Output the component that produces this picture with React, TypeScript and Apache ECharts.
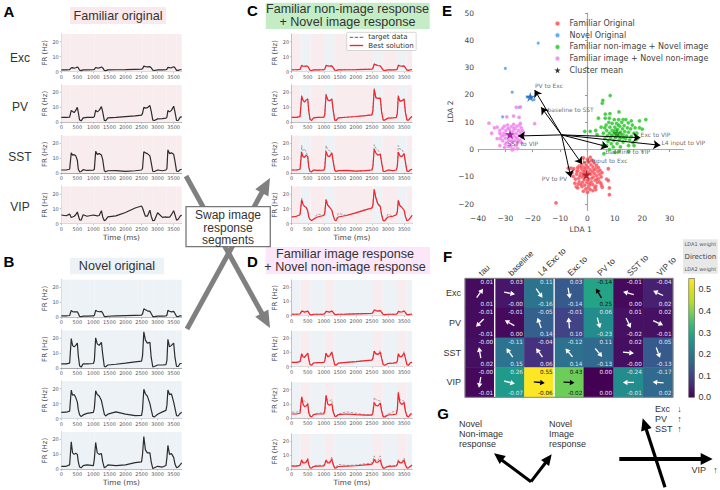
import React, { useEffect, useRef } from "react";
import * as echarts from "echarts";

const times = [0,150,260,310,350,400,450,500,530,570,620,680,800,
  1000,1030,1070,1120,1180,1250,1290,1340,1380,1450,1700,2000,2300,
  2500,2530,2570,2620,2680,2760,2800,2850,2900,3000,3150,
  3260,3290,3320,3370,3430,3500,3540,3590,3640,3700,3750];

const famExc = [1.2,1.2,1.3,2.6,2.7,2.3,2.6,3.1,2.6,1,0.7,1.2,1.2, 1.3,1.5,2.8,2.5,2.4,3.1,2.5,0.9,0.7,1.2,1.3,1.4,1.6, 1.7,2,3.7,3.4,3.2,3.4,2.6,1,0.8,1.2,1.2, 1.3,1.6,2.9,2.7,2.6,3.3,2.6,0.9,0.9,1.3,1.3];
const famPV = [3.3,3.3,3.5,8,7.2,6.5,8,10,6.5,1.5,1,3,3.3, 3.3,3.8,8.2,7,8,10.5,7,1.3,1,3,3.3,3.8,4.3, 4.8,6,10,9.5,9.8,11.2,7.5,1.5,1.2,2.3,2.5, 2.8,3.5,8,7,8,10.8,7,1.2,1.2,3.3,3.8];
const famSST = [2,2,2.5,13.5,12,12.3,11.5,8.5,2.5,0.8,1,2.3,1.7, 1.9,2.5,14.5,12.5,13,12,9,1.5,0.8,1.5,1.6,1.1,1.5, 2,3,14.2,13.5,13,11.5,7,1,1,2,1.5, 2,3,15.5,13,13.5,12.5,8,1.2,1,2.2,2.5];
const famVIP = [5.8,5.3,6.4,4.2,4.5,5,6,7.8,5.5,2.6,2.4,6,5, 5.8,5.5,5.5,5.2,5.5,8.7,4.5,2,2.5,4.6,5.2,7.5,10.5, 11.8,10.5,8,5,5,9,5,2,2.2,7.3,4.2, 4.5,4.2,4.5,4.3,6,8.7,6,2.4,3,5,5.8];

const novExc = [1,1,1.2,4.6,3.8,3.6,3.7,3.6,2.5,0.6,0.4,0.8,0.8, 0.9,1.3,4.6,4,3.7,3.9,2.8,0.6,0.4,0.7,0.9,1.1,1.3, 1.4,2.2,5.6,5,4.3,3.9,2.5,0.5,0.4,0.8,0.8, 0.9,1.5,4.6,4,3.6,3.9,2.5,0.6,0.5,0.9,1];
const novPV = [2.7,2.7,3.2,19.5,15,14,15,16.5,8,1.5,0.6,2.7,2.8, 3,5,20,16,15,17,9,1,0.8,2,2.5,3.2,4, 4.5,8,24,18.5,16.5,17,7,0.8,1,2,2, 2.2,5,19,14,15,16.5,7,1,1,3,3];
const novSST = [4.2,4.3,5,19,15.5,16,14,11,6,2.5,1.5,2.5,3.5, 4.2,7,18.5,16,15,12,8,3,1.8,3,4.5,3,2, 2.2,6,19.5,16.5,15,10,6,1.5,1.2,3,4.5, 5.5,9,19,16,16.5,11,7,2,1.8,3.5,4.3];
const novVIP = [2,2,3,18.5,11,10,10.8,10,5,1.5,1,2.5,3, 2.5,7,18,11,10,10.5,5,1,1.5,3,2.5,3,4.5, 5,10,22,13,11,11,5,0.5,1,2,1.5, 2.5,8,16,10,10.5,8,3.5,1,1.5,3,4.3];

const cTargetExc = [1.3,1.3,1.5,4.4,3.8,3.7,3.8,3.6,2.5,0.9,0.8,1.2,1.2, 1.3,1.6,4.4,4,3.8,3.9,2.8,0.9,0.8,1.2,1.3,1.4,1.6, 1.7,2.4,5.4,4.8,4.2,3.9,2.6,0.9,0.8,1.2,1.2, 1.3,1.8,4.5,4,3.6,3.9,2.6,0.9,0.9,1.3,1.3];
const cBestExc = [1.3,1.3,1.5,4.1,3.7,3.6,3.8,3.5,2.5,1,0.8,1.2,1.2, 1.3,1.6,4.2,3.9,3.7,3.9,2.7,1,0.8,1.2,1.3,1.4,1.6, 1.7,2.3,5,4.5,4.1,3.8,2.6,1,0.8,1.2,1.2, 1.3,1.8,4.2,3.9,3.6,3.8,2.6,1,0.9,1.3,1.3];
const cTargetPV = [3.3,3.3,3.8,18,15,13.8,15,16,8,2,1.2,3,3.3, 3.4,5,19,15.5,14.5,16,8.5,1.5,1.2,3,3.4,3.9,4.5, 5,8,23,17,16,16.5,7,1.5,1.5,2.8,3, 3.2,6,18,14,14.5,16,7,1.5,1.5,3.2,3.8];
const cBestPV = [3.3,3.3,3.8,17.5,14.8,13.5,15,15.5,8,2,1.2,3,3.3, 3.4,5,18.5,15,14.5,15.5,8.5,1.5,1.2,3,3.4,3.9,4.5, 5,8,22,16.5,16,16,7,1.5,1.5,2.8,3, 3.2,6,17.5,14,14.5,15.5,7,1.5,1.5,3.2,3.8];
const cTargetSST = [2,2,2.5,18.5,15,16,14,11,4,1,0.8,2,1.8, 1.9,4,18.5,15.5,15,13,9,2,1,1.6,1.7,1.2,1.6, 2,5,19,16.5,15.5,13,8,1,1,2,1.6, 2,5,18.5,16,16,13,8,1.2,1,2.2,2.4];
const cBestSST = [2,2,2.5,14,11,10.5,12,11,4,1,0.8,2,1.8, 1.9,3.5,14.5,11.5,11,13.5,8,1.8,1,1.6,1.7,1.2,1.6, 2,4.5,16,13.5,12,12.5,7,1,1,2,1.6, 2,4.5,14,11.5,11,13,7.5,1.2,1,2.2,2.4];
const cTargetVIP = [4.5,5,6.5,17,13,11.5,11,9,5,3,2.2,3,6.5, 5.5,7.5,16.5,12.5,11,9.5,6,2.5,2.2,7,5.5,7.5,9.5, 10.5,13,23,17,13,11,6,2,2,6.5,5, 6,8.5,16,12.5,11,9,5,2,2.5,4,5.5];
const cBestVIP = [4.5,5,6,16,13,11.5,11,8.5,4.5,2.8,2.2,3,4.5, 5.5,7,16,12.5,11,9,5.5,2.5,2,4.5,5.5,7.2,9.2, 10.5,12.5,23,17.5,13.5,11.5,6,2,2,4.5,5, 6,8,15.5,12,11,9,5,2,2.5,4,5.5];

const dTargetExc = [1.1,1.1,1.3,3.3,3.1,2.6,2.9,3.3,2.3,0.9,0.7,1,1, 1.1,1.5,3.1,2.9,2.6,3.4,2.5,0.9,0.7,1,1.1,1.3,1.5, 1.6,2.2,4.1,3.7,3.3,3.6,2.5,0.9,0.7,1,1, 1.1,1.5,3.1,2.8,2.7,3.4,2.4,0.8,0.7,1,1.1];
const dBestExc = [1,1,1.2,3.2,3,2.5,2.8,3.2,2.2,0.8,0.6,1,1, 1.1,1.5,3,2.8,2.5,3.3,2.4,0.9,0.7,1,1.1,1.3,1.5, 1.6,2.2,4,3.6,3.2,3.5,2.4,0.9,0.7,1,1, 1.1,1.5,3,2.7,2.6,3.3,2.3,0.8,0.7,1,1.1];
const dTargetPV = [3,3,3.5,9,7.5,7,8,9.5,5.5,1.5,1,2.6,2.8, 3,4,9.5,7.5,8,10.8,6,1.3,1,2.5,3,3.5,4.2, 4.6,6,11,9.5,9,11.5,6,1.5,1,2.3,2.5, 2.8,4,9,7.5,7.5,10.5,6,1.3,1,2.8,3];
const dBestPV = [3,3,3.5,9,7,6.5,8,9.5,5.5,1.5,1,2.6,2.8, 3,4,9.5,7,7.5,10,6,1.3,1,2.5,3,3.5,4.2, 4.6,6,11,9,8.5,10,6,1.5,1,2.3,2.5, 2.8,4,9,7,7,9.5,6,1.3,1,2.8,3];
const dTargetSST = [4.2,4.3,5,15,12,12,11,10.5,5,2,1.5,2.8,3.5, 4,6,15.5,12.5,12,13,6,2,1.5,3,4.5,3.5,2.5, 2.5,5,14.5,13,12.5,12,6,1.2,1.2,3,4.5, 5,7,16,13,12.5,12,6,1.8,1.3,3.2,4];
const dBestSST = [3,3,3.5,15,10,8,8.5,10,4,1.5,1,2.5,3, 3,5,16,10,9,10,4.5,1.5,1.2,2.5,3,2.5,2.2, 2.2,4,11,9,8.5,10.5,5,1,1,2.3,2.5, 3,6,18,11,9.5,11,5,1.5,1,2.8,3.2];
const dTargetVIP = [2.5,2.5,3,7,5,5,5.5,8,4,1.2,1,2.5,2.8, 2.8,4,7,5,5,9,4,1.2,1.5,3.5,2.7,3,4, 4.5,6,9.5,6,6,9.5,4,1,1.2,2.8,2.5, 2.5,4,7,5,5,8,3.5,1.2,1.2,2.8,3.2];
const dBestVIP = [2.3,2.3,2.8,6.5,4.5,4.5,5,7,3.5,1,0.8,2,2.3, 2.4,3.5,6.5,4.5,4.5,7,3.5,0.9,1,2,2.2,2.5,3.2, 3.6,4.5,7,5,5,6.5,3,0.8,0.9,2,2.2, 2.4,3.5,6,4.5,4.5,6.5,3,0.9,1,2.2,2.8];

const spanEdges = [0,280,580,1030,1330,2530,2830,3280,3580,3750];
const xTicks = [0,500,1000,1500,2000,2500,3000,3500];
const yTicks = [0,10,20];

const redPts = [[-11.5,-19.5],[7.6,-7],[7,-10.8],[7.6,-11.3],[8,-14],[8,-16.5],[5.4,-13.8],[5.2,-13.2],[-5.2,-9.8],[-7,-6.8],[-6,-6.8],[-5,-7],[-1.5,-3],[1,-2.8],[2,-4],[-4.6,-12.3],[-4.1,-13.6],[-3.6,-14],[-2,-13.5],[-1.5,-15.2],[0,-15.6],[2,-15],[3,-14.6],[-4,-9],[-3.5,-7.5],[-3,-6],[-3.2,-10.5],[-3,-11.8],[-2.5,-8.6],[-2.2,-5.5],[-2,-7.2],[-2,-10],[-1.8,-12],[-1.5,-6.4],[-1.3,-8.8],[-1.2,-11],[-1,-4.8],[-1,-13],[-0.8,-7.6],[-0.5,-10],[-0.4,-5.8],[-0.2,-12],[0,-8.2],[0.2,-6.5],[0.3,-14],[0.5,-4.6],[0.5,-10.8],[0.7,-13],[1,-7.4],[1.2,-9],[1.3,-5.6],[1.4,-11.8],[1.8,-8],[1.9,-12.8],[2,-6.4],[2.2,-10],[2.5,-4.9],[2.6,-8.8],[2.8,-11.2],[3,-7],[3,-13.4],[3.3,-5.8],[3.4,-9.6],[3.6,-12],[3.8,-8],[4,-10.6],[4,-6.6],[4.5,-9],[4.4,-11.8],[4.6,-7.6],[5,-10],[-3.8,-8],[-2.8,-9.6],[-3.4,-12.6],[-2.4,-12.8],[-0.6,-14.4],[1,-14.6],[-1.6,-9.6],[0.6,-8.6],[1.6,-10.4],[-0.2,-9.2],[-0.9,-6.9],[0.9,-12.4],[2.4,-7.4],[3.4,-11],[-2.4,-6.4],[-4.4,-10.8],[-3.6,-6.6],[-1.4,-7.9],[0.1,-11.2],[2.7,-13.9],[4.9,-12.4],[5.3,-8.4],[-5.6,-8.4],[1.5,-3.9],[0,-3.6]];
const bluePts = [[-18,39],[-30,29.7],[-27.5,21],[-25,15.5],[-31,12],[-20.5,19],[-19.5,18.3],[-21,19.5],[-22,19.2]];
const greenPts = [[5.4,17],[5.6,18],[8.3,19.8],[4,11.5],[6.5,13],[6.5,11.5],[8.2,13.2],[8,11.5],[11.5,13.8],[13,11],[16,10.5],[21.3,11],[19,10.5],[19,8],[-1,6.7],[1,6.7],[3,7],[3.5,5.5],[5.5,1.5],[6,-1.5],[7,1.5],[8,0],[10,-1],[12,1],[15,1.5],[15,-0.5],[17,1.5],[18,6],[20,7.5],[5,8.2],[5.8,6],[6.4,4],[6.8,9],[7,7],[7.3,5],[7.5,3],[7.8,10],[8,6],[8.2,8.2],[8.4,4.2],[8.7,2.2],[9,9.6],[9,7],[9.3,5.4],[9.6,3.4],[9.8,11],[10,8.2],[10,6],[10.3,4.4],[10.6,9.6],[10.8,2.2],[11,7.4],[11.2,5.2],[11.4,11],[11.6,3.6],[11.8,8.6],[12,6.4],[12.2,4.4],[12.5,10],[12.8,7.6],[13,2.8],[13,5.4],[13.4,8.8],[13.6,6.6],[13.9,3.9],[14,11],[14.3,5],[14.6,8],[14.9,9.8],[15,6.4],[15.4,3.6],[15.8,7.6],[16,4.8],[16.4,9],[16.6,2.6],[17,6],[17.4,8],[17.8,3.6],[18.4,4.2],[9.4,1],[11.5,-0.5],[6.3,8],[8.8,5.2],[10.4,7.2],[12.4,5.6],[11.3,9],[13.2,4.4],[9.7,6.8]];
const magentaPts = [[-36,9.7],[-34,8],[-33,8.2],[-32,7],[-27,12.3],[-25,11.8],[-26,15.5],[-24.5,15.6],[-19.3,9.5],[-33,4],[-35,6],[-32,1.5],[-30,2],[-28,1],[-27,0.3],[-25.5,0.4],[-24,2.5],[-29.5,12],[-31.5,5],[-31,7.8],[-31,3.2],[-30.6,6],[-30.4,8.6],[-30,4.2],[-29.8,7],[-29.5,2.6],[-29.2,9],[-29,5.4],[-28.8,3.6],[-28.6,7.6],[-28.3,1.8],[-28,6],[-27.8,8.4],[-27.6,4.4],[-27.4,2.8],[-27.2,6.8],[-27,9.2],[-26.8,5],[-26.6,3.4],[-26.4,7.6],[-26.2,1.6],[-26,6],[-25.8,8.6],[-25.6,4],[-25.4,2.6],[-25.2,7],[-25,5.2],[-24.8,9],[-24.6,3.4],[-24.4,6.4],[-24.2,8],[-24,4.6],[-23.8,7],[-23.5,5.6],[-32,6],[-31.8,4],[-30.8,5.2],[-29.9,5.6],[-29,7.8],[-28.4,4.8],[-27.7,3.2],[-26.9,7.9],[-26.1,4.4],[-25.3,3.2],[-28.9,1.2],[-27.5,-0.1],[-30.3,0.8],[-24.5,9.6]];
const meanPts = [[-0.4,-9.2,"#a3101a"],[-20.9,19.3,"#1a62b8"],[10.8,6,"#1a8f1a"],[-28.3,5.6,"#8a1090"]];

const arrowOrigin = [-9.5,5.4];
const arrowEnds = [[-19.3,21.8],[-16.9,15.5],[-25.3,5],[19.3,4.4],[26.6,1.6],[7.5,1],[-2,-5.3],[-6.1,-10.1]];
const arrowNames = ["PV to Exc","baseline to SST","SST to VIP","Exc to VIP","L4 input to VIP","baseline to VIP","L4 input to Exc","PV to PV"];
const arrowLabelAt = [[-19.2,23.3],[-14.6,14.6],[-29.2,2.4],[19.4,5.7],[27,2.7],[6.6,-0.6],[-1.8,-3.9],[-16.7,-10.6]];

const cols = ["tau","baseline","L4 Exc to","Exc to","PV to","SST to","VIP to"];
const rows = ["Exc","PV","SST","VIP"];
const lda1 = [
  ["0.01","0.03","0.11","0.03","-0.14","-0.01","-0.04"],
  ["-0.01","-0.01","-0.05","-0.01","0.06","0.01","0.02"],
  ["-0.00","-0.11","-0.04","-0.12","0.11","0.02","0.05"],
  ["-0.00","0.26","0.55","0.43","0.00","-0.24","-0.17"],
];
const lda2 = [
  ["0.01","-0.00","-0.16","-0.14","0.25","0.00","0.02"],
  ["-0.01","0.00","0.14","0.10","-0.23","-0.02","-0.01"],
  ["0.02","0.15","0.06","0.14","-0.13","-0.00","-0.13"],
  ["-0.01","-0.07","-0.06","-0.02","0.00","-0.01","0.02"],
];
const cellLevels = [
  [0.014,0.03,0.19,0.14,0.287,0.012,0.045],
  [0.014,0.012,0.15,0.10,0.24,0.022,0.022],
  [0.02,0.186,0.07,0.184,0.17,0.02,0.14],
  [0.01,0.27,0.55,0.385,0,0.24,0.17],
];
const arrowDeg = [
  [55,-10,-55,-80,120,165,155],
  [225,150,110,95,-75,-65,-25],
  [100,125,125,130,-50,-5,-70],
  [260,-15,-5,-3,null,180,175],
];
const viridis = ["#440154","#482878","#3e4a89","#31688e","#26828e","#1f9e89","#35b779","#6dcd59","#b4de2c","#d8e219","#fde725"];
const cbTicks = [0,0.1,0.2,0.3,0.4,0.5];
const scatterXTicks = [-40,-30,-20,-10,0,10,20,30];
const scatterYTicks = [-20,-10,0,10,20,30,40,50];

const SANS = "Liberation Sans";
const DJ = "DejaVu Sans";
const PINK = "#f9ecee";
const BLUE = "#edf2f7";
const STAR = "path://M50 0 L61 35 L98 35 L68 57 L79 91 L50 70 L21 91 L32 57 L2 35 L39 35 Z";
const BAR_ICON = "path://M0 0H100V10H0Z";
const DASH_ICON = "path://M0 0H26V10H0Z M37 0H63V10H37Z M74 0H100V10H74Z";

function zipT(v: number[]) { return times.map((t, i) => [t, v[i]]); }

function spans(colA: string, colB: string) {
  const out: any[] = [];
  for (let i = 0; i < spanEdges.length - 1; i++) {
    out.push([{ xAxis: spanEdges[i], itemStyle: { color: i % 2 ? colB : colA } }, { xAxis: spanEdges[i + 1] }]);
  }
  return out;
}

function head(tip: number[], from: number[], len: number, wid: number, fill: string, z = 5) {
  const a = Math.atan2(tip[1] - from[1], tip[0] - from[0]);
  const bx = tip[0] - len * Math.cos(a), by = tip[1] - len * Math.sin(a);
  const nx = -Math.sin(a) * wid / 2, ny = Math.cos(a) * wid / 2;
  return { type: "polygon", z, shape: { points: [tip, [bx + nx, by + ny], [bx - nx, by - ny]] }, style: { fill } };
}
function shaft(a: number[], b: number[], w: number, stroke: string, z = 5) {
  return { type: "line", z, shape: { x1: a[0], y1: a[1], x2: b[0], y2: b[1] }, style: { stroke, lineWidth: w } };
}
function label(text: string, x: number, y: number, font: string, fill = "#333", align = "center", z = 6) {
  return { type: "text", z, x, y, style: { text, font, fill, textAlign: align, textVerticalAlign: "middle" } };
}
function box(x: number, y: number, w: number, h: number, fill: string) {
  return { type: "rect", z: 0, shape: { x, y, width: w, height: h }, style: { fill } };
}

function buildOption() {
  const grid: any[] = [], xAxis: any[] = [], yAxis: any[] = [], series: any[] = [];

  const addPanel = (left: number, top: number, bottom: number, lines: any[], bg: any[], last: boolean) => {
    const idx = grid.length;
    grid.push({ left, top, width: 120.4, height: bottom - top });
    xAxis.push({
      gridIndex: idx, type: "value", min: 0, max: 3750,
      name: last ? "Time (ms)" : "", nameLocation: "middle", nameGap: 10,
      nameTextStyle: { fontSize: 7.3, color: "#444", fontFamily: DJ },
      splitLine: { show: false },
      axisLine: { lineStyle: { color: "#aaa", width: 1 } },
      axisTick: { customValues: xTicks, length: 1.5, lineStyle: { color: "#888", width: 0.5 } },
      axisLabel: { customValues: xTicks, fontSize: 5, color: "#555", margin: 2.5, fontFamily: DJ, formatter: (v: number) => String(v) },
    });
    yAxis.push({
      gridIndex: idx, type: "value", min: 0, max: 25,
      name: "FR (Hz)", nameLocation: "middle", nameGap: 12,
      nameTextStyle: { fontSize: 7, color: "#444", fontFamily: DJ },
      splitLine: { show: false },
      axisLine: { show: true, lineStyle: { color: "#777", width: 0.6 } },
      axisTick: { customValues: yTicks, length: 1.5, lineStyle: { color: "#888", width: 0.5 } },
      axisLabel: { customValues: yTicks, fontSize: 5, color: "#555", margin: 2.5, fontFamily: DJ },
    });
    lines.forEach((l, i) => {
      series.push({
        type: "line", name: l.name, xAxisIndex: idx, yAxisIndex: idx, data: zipT(l.v),
        symbol: "none", z: l.z || 3, lineStyle: l.style, itemStyle: { color: l.style.color }, silent: true,
        markArea: i === 0 ? { silent: true, z: 1, data: bg } : undefined,
      });
    });
  };

  const black = { color: "#2c2c2c", width: 1.2 };
  const red = { color: "#f5222a", width: 1.2 };
  const gray = { color: "#808080", width: 0.8, type: [2.5, 1.5], opacity: 0.85 };
  const ax = 61.3, cx = 291.7;
  const aRows = [[34, 71.7], [85, 122.3], [135.7, 173], [186.3, 223.7]];
  const bRows = [[279.7, 317.3], [330.3, 368], [381, 418.7], [432, 469.3]];
  const dRows = [[280, 315.7], [331, 366.7], [382.3, 418.3], [434, 469.3]];
  [famExc, famPV, famSST, famVIP].forEach((v, i) =>
    addPanel(ax, aRows[i][0], aRows[i][1], [{ name: "fam" + i, v, style: black }], spans(PINK, PINK), i === 3));
  [novExc, novPV, novSST, novVIP].forEach((v, i) =>
    addPanel(ax, bRows[i][0], bRows[i][1], [{ name: "nov" + i, v, style: black }], spans(BLUE, BLUE), i === 3));
  const cSets = [[cBestExc, cTargetExc], [cBestPV, cTargetPV], [cBestSST, cTargetSST], [cBestVIP, cTargetVIP]];
  cSets.forEach((s, i) =>
    addPanel(cx, aRows[i][0], aRows[i][1], [
      { name: "target data", v: s[1], style: gray, z: 3 },
      { name: "Best solution", v: s[0], style: red, z: 4 },
    ], spans(PINK, BLUE), i === 3));
  const dSets = [[dBestExc, dTargetExc], [dBestPV, dTargetPV], [dBestSST, dTargetSST], [dBestVIP, dTargetVIP]];
  dSets.forEach((s, i) =>
    addPanel(cx, dRows[i][0], dRows[i][1], [
      { name: "dTarget" + i, v: s[1], style: gray, z: 3 },
      { name: "dBest" + i, v: s[0], style: red, z: 4 },
    ], spans(BLUE, PINK), i === 3));

  // Panel E
  const e = grid.length;
  grid.push({ left: 478, top: 13, width: 205.3, height: 197.3 });
  xAxis.push({
    gridIndex: e, type: "value", min: -40, max: 35,
    name: "LDA 1", nameLocation: "middle", nameGap: 15,
    nameTextStyle: { fontSize: 7.5, color: "#444", fontFamily: DJ },
    splitLine: { show: false },
    axisLine: { lineStyle: { color: "#aaa", width: 1.2 } },
    axisTick: { customValues: scatterXTicks, length: 2.5, lineStyle: { color: "#999" } },
    axisLabel: { customValues: scatterXTicks, fontSize: 7.5, color: "#444", margin: 4, fontFamily: DJ, formatter: (v: number) => String(v).replace("-", "\u2212") },
  });
  yAxis.push({
    gridIndex: e, type: "value", min: -22.2, max: 50,
    name: "LDA 2", nameLocation: "middle", nameGap: 22,
    nameTextStyle: { fontSize: 7.5, color: "#444", fontFamily: DJ },
    splitLine: { show: false },
    axisLine: { show: true, lineStyle: { color: "#aaa", width: 1.2 } },
    axisTick: { customValues: scatterYTicks, length: 2.5, lineStyle: { color: "#999" } },
    axisLabel: { customValues: scatterYTicks, fontSize: 7.5, color: "#444", margin: 4, fontFamily: DJ, formatter: (v: number) => String(v).replace("-", "\u2212") },
  });
  const sc = (name: string, data: number[][], color: string, size: number) => series.push({
    type: "scatter", name, xAxisIndex: e, yAxisIndex: e, data, symbolSize: size, z: 3, silent: true,
    itemStyle: { color, opacity: 0.85, borderColor: "#fff", borderWidth: 0.2 },
  });
  sc("Familiar Original", redPts, "#f9505a", 3.8);
  sc("Novel Original", bluePts, "#4a9ff0", 3.2);
  sc("Familiar non-image + Novel image", greenPts, "#2cc52c", 3.8);
  sc("Familiar image + Novel non-image", magentaPts, "#ee82ee", 3.8);
  series.push({
    type: "scatter", name: "Cluster mean", xAxisIndex: e, yAxisIndex: e, symbol: STAR, symbolSize: 10, z: 4, silent: true,
    itemStyle: { color: "#000" },
    data: meanPts.map((m) => ({ value: [m[0], m[1]], itemStyle: { color: m[2] } })),
  });
  series.push({
    type: "lines", coordinateSystem: "cartesian2d", xAxisIndex: e, yAxisIndex: e, z: 5, silent: true,
    symbol: ["none", "arrow"], symbolSize: 7,
    lineStyle: { color: "#000", width: 1, opacity: 1, curveness: 0 },
    data: arrowEnds.map((p) => ({ coords: [arrowOrigin, p] })),
  });
  series.push({
    type: "scatter", xAxisIndex: e, yAxisIndex: e, symbolSize: 0, z: 6, silent: true,
    data: arrowNames.map((n, i) => ({
      value: arrowLabelAt[i],
      label: { show: true, formatter: n, position: "right", distance: 0, fontSize: 6, color: "#444", fontFamily: DJ },
    })),
  });

  // Panel F
  const f = grid.length;
  grid.push({ left: 465, top: 278.3, width: 208, height: 119, show: true, borderColor: "#888", borderWidth: 1, backgroundColor: "transparent", z: 10 });
  xAxis.push({
    gridIndex: f, type: "category", data: cols, position: "top",
    axisLine: { show: false }, splitLine: { show: false },
    axisTick: { alignWithLabel: true, length: 2.5, lineStyle: { color: "#555" } },
    axisLabel: { rotate: -45, fontSize: 8.5, color: "#333", margin: 4, interval: 0, fontFamily: SANS },
  });
  yAxis.push({
    gridIndex: f, type: "category", data: rows, inverse: true,
    axisLine: { show: false }, splitLine: { show: false },
    axisTick: { alignWithLabel: true, length: 2.5, lineStyle: { color: "#555" } },
    axisLabel: { fontSize: 9, color: "#333", margin: 4, fontFamily: SANS },
  });
  const heatIdx = series.length;
  const cellData: number[][] = [];
  const indexData: number[][] = [];
  rows.forEach((_, r) => cols.forEach((__, c) => {
    cellData.push([c, r, cellLevels[r][c]]);
    indexData.push([c, r]);
  }));
  series.push({ type: "heatmap", xAxisIndex: f, yAxisIndex: f, data: cellData, silent: true, z: 2 });
  series.push({
    type: "custom", xAxisIndex: f, yAxisIndex: f, data: indexData, z: 3, silent: true,
    encode: { x: 0, y: 1 },
    renderItem: (_p: any, api: any) => {
      const c = api.value(0), r = api.value(1);
      const pos = api.coord([c, r]);
      const size = api.size([1, 1]);
      const dark = cellLevels[r][c] > 0.28;
      const ink = dark ? "#000" : "#fff";
      const txt = dark ? "#111" : "#e4e4f0";
      const right = pos[0] + size[0] / 2 - 1.5;
      const children: any[] = [
        { type: "text", style: { text: lda1[r][c], x: right, y: pos[1] - size[1] / 2 + 1, fill: txt, fontSize: 5.7, fontFamily: DJ, textAlign: "right", textVerticalAlign: "top" } },
        { type: "text", style: { text: lda2[r][c], x: right, y: pos[1] + size[1] / 2 - 1, fill: txt, fontSize: 5.7, fontFamily: DJ, textAlign: "right", textVerticalAlign: "bottom" } },
      ];
      const deg = arrowDeg[r][c];
      if (deg !== null) {
        const a = (deg * Math.PI) / 180;
        const ux = Math.cos(a), uy = -Math.sin(a);
        const tip = [pos[0] + ux * 5.5, pos[1] + uy * 5.5];
        const tail = [pos[0] - ux * 5.5, pos[1] - uy * 5.5];
        const b = [tip[0] - ux * 4.6, tip[1] - uy * 4.6];
        children.push({ type: "line", shape: { x1: tail[0], y1: tail[1], x2: b[0], y2: b[1] }, style: { stroke: ink, lineWidth: 1.3 } });
        children.push({ type: "polygon", shape: { points: [tip, [b[0] - uy * 2.7, b[1] + ux * 2.7], [b[0] + uy * 2.7, b[1] - ux * 2.7]] }, style: { fill: ink } });
      }
      if (c === 0 || c === 2) {
        const xr = pos[0] + size[0] / 2;
        children.push({ type: "line", shape: { x1: xr, y1: pos[1] - size[1] / 2, x2: xr, y2: pos[1] + size[1] / 2 }, style: { stroke: "#fff", lineWidth: 1.3 } });
      }
      return { type: "group", children };
    },
  });

  // Colour bar
  const b = grid.length;
  grid.push({ left: 688.7, top: 278.5, width: 5.8, height: 118.8, show: true, borderColor: "#555", borderWidth: 0.6, backgroundColor: "transparent", z: 10 });
  xAxis.push({ gridIndex: b, type: "category", data: ["bar"], show: false });
  yAxis.push({
    gridIndex: b, type: "value", min: 0, max: 0.55, position: "right",
    splitLine: { show: false }, axisLine: { show: false },
    axisTick: { customValues: cbTicks, length: 2.5, lineStyle: { color: "#444" } },
    axisLabel: { customValues: cbTicks, fontSize: 9, color: "#333", margin: 4, fontFamily: SANS, formatter: (v: number) => v.toFixed(1) },
  });
  series.push({
    type: "bar", xAxisIndex: b, yAxisIndex: b, data: [0.55], barWidth: "100%", silent: true,
    itemStyle: {
      color: new echarts.graphic.LinearGradient(0, 1, 0, 0, viridis.map((c, i) => ({ offset: i / (viridis.length - 1), color: c }))),
    },
  });

  const graySwap = "#808080";
  const TITLE = `12.6px "${SANS}"`;
  const LETTER = `bold 15px "${SANS}"`;
  const ROW = `12px "${SANS}"`;
  const SWAP = `12px "${SANS}"`;
  const G = `9px "${SANS}"`;
  const graphic: any[] = [
    box(70, 7, 96, 17, "#f9e9ec"),
    box(70, 257.7, 94, 16.6, "#edf2f7"),
    box(265.7, 2.7, 164, 26.3, "#c5edc5"),
    box(265.7, 247, 164.3, 27, "#fbe6fa"),
    label("Familiar original", 118, 15.5, TITLE),
    label("Novel original", 117, 266, TITLE),
    label("Familiar non-image response", 347.5, 8.5, TITLE),
    label("+ Novel image response", 347.5, 22, TITLE),
    label("Familiar image response", 345, 253.7, TITLE),
    label("+ Novel non-image response", 345, 267.2, TITLE),
    label("A", 9, 11, LETTER, "#000"),
    label("B", 9, 261, LETTER, "#000"),
    label("C", 252.5, 10.5, LETTER, "#000"),
    label("D", 252.5, 261.5, LETTER, "#000"),
    label("E", 447, 10.5, LETTER, "#000"),
    label("F", 447.5, 256.5, LETTER, "#000"),
    label("G", 443, 413.5, LETTER, "#000"),
    label("Exc", 20, 57.5, ROW),
    label("PV", 20, 107, ROW),
    label("SST", 20, 157, ROW),
    label("VIP", 20, 207, ROW),
    shaft([186, 176], [262.5, 314.5], 5, graySwap, 5),
    head([270, 328], [186, 176], 17, 15, graySwap),
    shaft([187, 329], [262.5, 191.5], 5, graySwap, 5),
    head([270, 178], [187, 329], 17, 15, graySwap),
    { type: "rect", z: 6, shape: { x: 186, y: 206.7, width: 84.3, height: 40 }, style: { fill: "#fff", stroke: "#777", lineWidth: 1.3 } },
    label("Swap image", 228, 215, SWAP, "#333", "center", 7),
    label("response", 228, 227.5, SWAP, "#333", "center", 7),
    label("segments", 228, 240, SWAP, "#333", "center", 7),
    box(683, 239.3, 34.7, 34.4, "#e8e8e8"),
    label("LDA1 weight", 700.3, 244, `5px "${DJ}"`, "#555"),
    label("Direction", 700.3, 256.5, `7px "${DJ}"`, "#444"),
    label("LDA2 weight", 700.3, 269, `5px "${DJ}"`, "#555"),
    label("Novel", 459, 424, G, "#333", "left"),
    label("Non-image", 459, 434, G, "#333", "left"),
    label("response", 459, 443.5, G, "#333", "left"),
    label("Novel", 549, 424, G, "#333", "left"),
    label("Image", 549, 434, G, "#333", "left"),
    label("response", 549, 443.5, G, "#333", "left"),
    shaft([531, 481.7], [501, 459.5], 3, "#000"),
    head([494, 453.3], [531, 481.7], 11, 10, "#000"),
    shaft([531, 481.7], [546.5, 461.5], 3, "#000"),
    head([551.7, 454.3], [531, 481.7], 11, 10, "#000"),
    shaft([619.3, 459], [703, 459], 4, "#000"),
    head([712.7, 459], [619.3, 459], 12, 12, "#000"),
    shaft([665, 487.3], [645.5, 427], 3.2, "#000"),
    head([642.7, 418.3], [665, 487.3], 12, 11, "#000"),
    label("Exc", 655, 409.3, G, "#333", "left"),
    label("PV", 655, 419, G, "#333", "left"),
    label("SST", 655, 428.7, G, "#333", "left"),
    label("\u2193", 679.5, 409.3, G, "#333"),
    label("\u2191", 679.5, 419, G, "#333"),
    label("\u2191", 679.5, 428.7, G, "#333"),
    label("VIP", 691.5, 470, G, "#333", "left"),
    label("\u2191", 715.5, 470, G, "#333"),
  ];

  return {
    animation: false,
    backgroundColor: "#fff",
    textStyle: { fontFamily: SANS },
    grid, xAxis, yAxis, series, graphic,
    visualMap: { show: false, seriesIndex: heatIdx, dimension: 2, min: 0, max: 0.55, inRange: { color: viridis } },
    legend: [
      {
        left: 346.7, top: 32.3, orient: "vertical", selectedMode: false, z: 20,
        data: [{ name: "target data", icon: DASH_ICON }, { name: "Best solution", icon: BAR_ICON }],
        itemWidth: 13.5, itemHeight: 1.35, itemGap: 1.2, padding: [1.5, 2.5, 1.5, 3],
        backgroundColor: "#fff", borderColor: "#ccc", borderWidth: 0.8, borderRadius: 1,
        textStyle: { fontSize: 7, color: "#333", fontFamily: DJ },
      },
      {
        left: 553.5, top: 19.5, orient: "vertical", selectedMode: false, padding: 0,
        data: [
          { name: "Familiar Original", icon: "circle" },
          { name: "Novel Original", icon: "circle" },
          { name: "Familiar non-image + Novel image", icon: "circle" },
          { name: "Familiar image + Novel non-image", icon: "circle" },
          { name: "Cluster mean", icon: STAR },
        ],
        itemWidth: 14, itemHeight: 6, itemGap: 3.7,
        textStyle: { fontSize: 8, color: "#444", fontFamily: DJ },
      },
    ],
  };
}

export default function App() {
  const ref = useRef<HTMLDivElement>(null);
  useEffect(() => {
    const chart = echarts.init(ref.current as HTMLDivElement, undefined, { renderer: "svg" });
    chart.setOption(buildOption() as any);
    return () => chart.dispose();
  }, []);
  return <div ref={ref} style={{ position: "absolute", left: 0, top: 0, width: 720, height: 490 }} />;
}
